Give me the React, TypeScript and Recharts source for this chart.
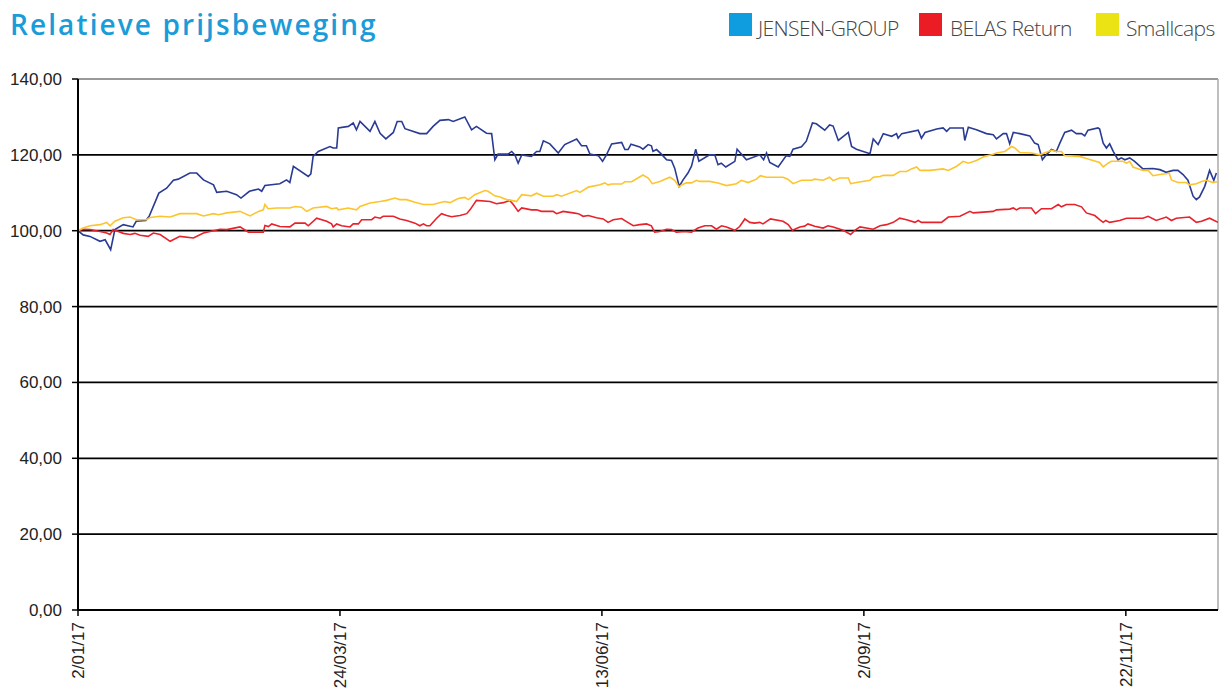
import { LineChart, Line, XAxis, YAxis, CartesianGrid, ReferenceLine } from 'recharts';

// x = calendar days since 2/01/17
const dayTicks = [0, 81, 162, 243, 324];
const dayLabels = ['2/01/17', '24/03/17', '13/06/17', '2/09/17', '22/11/17'];
const valueTicks = [0, 20, 40, 60, 80, 100, 120, 140];

const jensenDays = [
  0, 1.6, 3.7, 6.8, 8.4, 10.1, 11.4, 14, 17, 18, 21, 22, 25, 27.4, 29.5, 31, 34.6, 36.7, 38.8, 41.9,
  42.9, 46, 49, 50.4, 53, 55.8, 56.8, 57.8, 62.4, 64.5, 65.5, 66.6, 71.2, 72, 72.7, 74.3, 77.9, 78.9, 80, 80.5,
  83.6, 85.1, 86.1, 87.2, 90.3, 91.8, 93.4, 95.2, 97.5, 98.7, 100.1, 101.1, 105.7, 107.8, 109.8, 111.9, 114.5, 116, 119.6, 121.7,
  123.2, 126.3, 127.9, 128.9, 129.9, 133, 134.1, 135.1, 136.1, 137.2, 140.2, 141.8, 142.8, 143.9, 145.9, 148.5, 150.5, 154.2, 155.7, 157.2,
  158.3, 160.9, 162.2, 163.4, 165, 168.1, 169.1, 170.1, 171, 173.7, 174.7, 176.3, 177.3, 177.8, 178.9, 180.4, 182, 183.5, 184.5, 185.9,
  187.1, 188.6, 189.7, 191, 192, 195.3, 196.9, 197.9, 198.9, 200.3, 203.1, 203.8, 206.7, 210.8, 212, 212.9, 213.9, 216.5, 219, 220.1,
  221.1, 223.7, 225.2, 227.1, 228.3, 230.9, 232.4, 233.5, 235.1, 238.2, 239.2, 240.7, 244.9, 245.9, 247.4, 249, 251.6, 253.1, 253.6, 254.7,
  259.8, 260.8, 261.9, 265.5, 267.5, 268.6, 269.6, 273.7, 274.2, 275.3, 277.8, 280.9, 283, 284, 286.1, 287.1, 288.1, 289.2, 291.2, 294.3,
  295.8, 296.9, 298.2, 299.4, 301, 302.5, 303.6, 305.1, 307.2, 308.7, 310.3, 311.3, 312.3, 315.4, 315.9, 317, 318, 319, 320.1, 321.6,
  322.6, 323.7, 325.2, 326.7, 329.3, 332.4, 334.5, 336.5, 338.6, 340.1, 341.7, 343.2, 344.8, 345.8, 346.8, 348.4, 349.9, 351.2, 352,
];
const jensenValues = [
  100, 98.9, 98.5, 97.2, 97.6, 95.0, 100.3, 101.6, 101, 102.5, 102.7, 103.8, 109.9, 111.2, 113.3, 113.6, 115.2, 115.2, 113.4, 112.1,
  110.1, 110.4, 109.5, 108.6, 110.4, 111, 110.4, 111.9, 112.4, 113.4, 112.7, 117.0, 114.3, 115.0, 119.6, 120.9, 122.2, 121.8, 121.8, 127.1,
  127.5, 128.4, 126.6, 128.8, 126.2, 128.8, 125.7, 124.2, 125.9, 128.8, 128.8, 126.9, 125.6, 125.6, 127.5, 129.1, 129.3, 128.8, 130.0, 126.6,
  127.5, 125.7, 125.6, 118.7, 120.2, 120.2, 120.9, 120.0, 117.8, 120.0, 119.6, 120.9, 120.9, 123.7, 122.9, 120.5, 122.7, 124.2, 122.4, 122.4,
  120.2, 119.8, 118.3, 120.0, 122.9, 123.3, 121.4, 121.4, 122.8, 122.1, 121.5, 122.7, 122.4, 120.9, 121.4, 120.2, 118.7, 118.5, 116.5, 111.7,
  113.4, 115.2, 117.0, 121.5, 118.3, 120.0, 120.0, 117.4, 117.8, 116.8, 118.3, 121.5, 118.7, 120.0, 118.7, 120.5, 118.0, 116.8, 119.8, 119.6,
  121.5, 122.1, 123.6, 128.4, 128.2, 126.5, 127.9, 127.6, 123.8, 125.9, 122.2, 121.5, 120.3, 124.2, 122.7, 125.6, 124.9, 125.6, 124.4, 125.6,
  126.5, 124.4, 125.9, 126.8, 127.1, 126.2, 127.1, 127.1, 123.8, 127.3, 126.6, 125.6, 125.3, 124.2, 125.6, 125.6, 122.9, 125.9, 125.6, 125.0,
  123.1, 122.7, 118.7, 120.0, 121.4, 120.9, 123.1, 125.9, 126.5, 125.6, 125.6, 125.0, 126.5, 127.1, 126.8, 123.1, 121.8, 122.9, 120.9, 118.7,
  119.2, 118.7, 119.2, 118.3, 116.3, 116.4, 116.1, 115.4, 115.9, 115.9, 114.8, 113.3, 109.1, 108.2, 108.9, 111.7, 115.9, 113.3, 115.2,
];

const belasDays = [
  0, 1.6, 3.7, 6.8, 8.9, 9.9, 10.9, 14, 16.1, 17.6, 19.2, 21.7, 23.3, 25.4, 28.5, 31.5, 35.7, 38.8, 40.8, 43.9,
  46, 50.1, 52.7, 57.3, 57.8, 58.9, 59.9, 62.4, 65.5, 67.1, 70.2, 71.2, 73.8, 76.9, 78.4, 78.9, 80, 81.5, 84.1, 85.1,
  86.7, 87.7, 90.8, 91.8, 93.4, 94.4, 97.5, 99.5, 101.6, 104.2, 105.7, 106.8, 107.8, 108.8, 110.9, 112.4, 114, 115.5, 118.1, 120.2,
  121.2, 123.2, 127.4, 129.4, 131.5, 133.5, 134.6, 136.1, 137.2, 140.2, 141.8, 143.3, 146.9, 148, 150, 153.1, 154.7, 156.2, 157.8, 160.3,
  162.4, 163.9, 165.5, 168.1, 169.6, 171.7, 173.7, 175.8, 177.3, 178.3, 179.9, 182, 183.5, 185, 187.6, 189.7, 191.7, 193.8, 195.9, 197.4,
  199, 200.5, 203.1, 204.6, 206.2, 207.7, 209.2, 210.8, 211.8, 214.1, 218, 219.6, 220.9, 223.2, 224.7, 225.7, 227.8, 230.4, 231.9, 233.5,
  236.6, 238.9, 240.2, 241.8, 245.9, 248, 250, 252.1, 254.1, 256.2, 258.8, 259.8, 260.8, 267, 269.1, 272.7, 275.8, 276.8, 279.9, 283,
  284, 288.1, 289.2, 290.2, 291.2, 294.8, 296.1, 297.9, 301, 303.1, 304.1, 305.6, 308.2, 310.3, 311.8, 314.4, 315.9, 317, 317.8, 319,
  322.1, 324.2, 329.3, 330.9, 333.4, 336.5, 338.1, 339.6, 343.7, 345.8, 347.4, 349.9, 352.5,
];
const belasValues = [
  100, 100.4, 100.3, 99.8, 99.4, 99, 100.3, 99.3, 99, 99.3, 98.8, 98.5, 99.4, 99, 97.2, 98.5, 98.1, 99.4, 99.8, 100.4,
  100.3, 101, 99.6, 99.6, 101.4, 101.1, 101.8, 101.1, 101, 102, 102, 101.3, 103.3, 102.5, 101.8, 101, 101.8, 101.3, 101, 101.8,
  101.8, 102.9, 102.9, 103.6, 103.3, 103.8, 103.8, 103.1, 102.7, 102, 101.3, 101.8, 101.3, 101.3, 103.3, 104.5, 104, 103.7, 104, 104.5,
  105.5, 108, 107.7, 107.1, 107.4, 108, 106.9, 105.1, 106, 105.5, 105.5, 105.1, 105.1, 104.5, 105.1, 104.7, 104.5, 103.8, 104, 103.4,
  103.1, 102.2, 102.9, 103.2, 102.4, 101.3, 101.6, 101.8, 101.3, 99.6, 99.8, 100.4, 100.3, 99.6, 99.8, 99.6, 100.7, 101.3, 101.3, 100.4,
  101.3, 101, 100.1, 101.1, 103.1, 102.2, 102, 102.2, 101.8, 103.1, 102.5, 101.6, 100.1, 101, 101.2, 101.8, 101.2, 100.7, 101.3, 101,
  100.1, 99, 100.1, 101, 100.4, 101.3, 101.6, 102.2, 103.3, 102.9, 102.2, 102.7, 102.2, 102.2, 103.6, 103.8, 105.1, 104.7, 104.9, 105.1,
  105.5, 105.7, 106, 105.5, 106, 106, 104.5, 105.8, 105.8, 106.9, 106.3, 106.9, 106.9, 106.3, 104.7, 104, 102.9, 102.2, 102.7, 102.2,
  102.7, 103.3, 103.3, 103.8, 102.7, 103.6, 102.7, 103.3, 103.6, 102.2, 102.5, 103.3, 102.2,
];

const smallcapsDays = [
  0, 1.6, 3.7, 6.8, 8.9, 9.9, 11.4, 14, 16.1, 18.1, 21.2, 22.3, 25.4, 28.5, 31.5, 36.7, 38.8, 41.9, 43.4, 46,
  50.1, 53.2, 55.8, 57.3, 57.8, 58.8, 61.4, 65.5, 67.1, 69.1, 70.7, 72.7, 76.9, 78.4, 80, 80.5, 83.6, 86.1, 87.2, 90.3,
  93.4, 95.4, 98, 99.5, 101.6, 104.2, 106.8, 109.8, 112.4, 113.4, 115, 117.1, 118.1, 119.6, 120.7, 122.7, 125.8, 126.8, 128.9, 130.5,
  132.5, 134.1, 135.6, 137.2, 140.2, 141.8, 143.9, 146.9, 148, 149.5, 154.2, 155.2, 157.8, 161.4, 162.9, 163.9, 165, 168.1, 169.1, 171.2,
  174.7, 176.3, 177.6, 179.9, 183, 184.5, 185.9, 186.6, 188.1, 189.7, 191.2, 192.2, 195.3, 197.9, 200.5, 203.6, 205.1, 207.2, 209.8, 211,
  212.9, 218, 219.5, 221.1, 223.7, 226.8, 227.8, 230.4, 232.4, 233.5, 235.5, 238.2, 238.9, 240.7, 244.9, 245.9, 248, 249, 252.1, 254.1,
  256.2, 257.7, 259.3, 260.3, 263.4, 267.5, 269.1, 271.7, 273.7, 275.3, 277.8, 280.4, 282.5, 284, 286.6, 288.7, 289.7, 291.2, 294.8, 297.4,
  301, 302.5, 304.1, 305.1, 309.7, 312.3, 315.9, 317, 318.5, 319.5, 323.1, 324.2, 325.2, 326.2, 329.3, 330.9, 332.4, 334.5, 336.5, 337.4,
  338.1, 340.1, 342.7, 343.7, 345.8, 347.4, 348.9, 351, 352.5,
];
const smallcapsValues = [
  100, 100.7, 101.3, 101.6, 102.2, 101.3, 102.5, 103.4, 103.6, 102.9, 102.9, 103.5, 103.8, 103.6, 104.5, 104.5, 103.9, 104.5, 104.2, 104.7,
  105.1, 103.9, 105.1, 105.5, 106.9, 105.8, 106, 106, 106.4, 106.2, 105.1, 106, 106.4, 105.8, 106, 105.5, 106, 105.5, 106.4, 107.3,
  107.7, 108, 108.6, 108.2, 108.2, 107.5, 106.9, 106.9, 107.5, 107.7, 107.4, 108.3, 108.6, 108.8, 108.2, 109.5, 110.6, 110.4, 109.2, 108.9,
  108.2, 108, 107.7, 109.5, 109.2, 109.9, 109.1, 109.1, 109.5, 109.1, 110.6, 110.1, 111.5, 112.1, 112.6, 112.1, 112.3, 112.3, 112.9, 112.9,
  114.7, 113.9, 112.4, 113, 114.1, 113.3, 111.5, 112.1, 112.6, 112.6, 113.3, 113, 113, 112.6, 111.9, 112.4, 113.3, 112.7, 113.6, 114.5,
  114.1, 114.1, 113.6, 112.4, 113.3, 113.3, 113.6, 113.3, 114.1, 113.2, 113.9, 113.9, 112.4, 112.7, 113.3, 114.1, 114.3, 114.6, 114.6, 115.6,
  115.6, 116.3, 116.8, 115.9, 115.9, 116.3, 115.9, 117, 118.3, 117.8, 118.5, 119.6, 120, 120.5, 120.9, 122.2, 121.8, 120.6, 120.5, 120,
  121.2, 120.9, 120.9, 119.8, 119.6, 118.9, 118, 116.8, 117.8, 118.3, 118.3, 117.8, 118.3, 116.8, 115.9, 115.9, 114.5, 114.8, 115, 115.2,
  113.4, 112.7, 112.7, 112.1, 112.4, 113, 113.3, 112.7, 113,
];

const toPoints = (days: number[], values: number[]) => days.map((day, i) => ({ day, value: values[i] }));
const jensen = toPoints(jensenDays, jensenValues);
const belas = toPoints(belasDays, belasValues);
const smallcaps = toPoints(smallcapsDays, smallcapsValues);

const legendItems = [
  { name: 'JENSEN-GROUP', color: '#0f9ddf', boxLeft: 729, textLeft: 758 },
  { name: 'BELAS Return', color: '#ec1c24', boxLeft: 919, textLeft: 950 },
  { name: 'Smallcaps', color: '#ebe314', boxLeft: 1096, textLeft: 1126 },
];

const axisFont = '"Liberation Sans", Arial, sans-serif';

function DateTick(props: any) {
  const { x, y, payload } = props;
  const label = dayLabels[dayTicks.indexOf(payload.value)] ?? '';
  return (
    <g transform={`translate(${x},${y})`}>
      <text transform="rotate(-90)" textAnchor="end" dy="0.35em" fontSize={17} fill="#222" fontFamily={axisFont}>
        {label}
      </text>
    </g>
  );
}

export default function App() {
  return (
    <div style={{ position: 'absolute', left: 0, top: 0, width: 1232, height: 691, background: '#fff' }}>
      <div
        style={{
          position: 'absolute',
          left: 10,
          top: 4,
          fontFamily: '"Open Sans", sans-serif',
          fontWeight: 600,
          fontSize: 28,
          letterSpacing: 2.1,
          color: '#1a9cd9',
          lineHeight: '40px',
          whiteSpace: 'nowrap',
        }}
      >
        Relatieve prijsbeweging
      </div>
      {legendItems.map((item) => (
        <div key={item.name}>
          <div style={{ position: 'absolute', left: item.boxLeft, top: 13, width: 23, height: 23, background: item.color }} />
          <div
            style={{
              position: 'absolute',
              left: item.textLeft,
              top: 13,
              fontFamily: '"Open Sans", sans-serif',
              fontWeight: 300,
              fontSize: 21,
              letterSpacing: -0.6,
              lineHeight: '30px',
              color: '#444',
              whiteSpace: 'nowrap',
            }}
          >
            {item.name}
          </div>
        </div>
      ))}
      <div style={{ position: 'absolute', left: 0, top: 0 }}>
        <LineChart width={1232} height={691} margin={{ top: 79, right: 14, bottom: 0, left: 0 }}>
          <CartesianGrid vertical={false} stroke="#000" strokeWidth={1.8} />
          <XAxis
            type="number"
            dataKey="day"
            domain={[0, 352.5]}
            ticks={dayTicks}
            height={81}
            tickSize={6}
            tickMargin={6}
            tick={<DateTick />}
            axisLine={{ stroke: '#000', strokeWidth: 2 }}
            tickLine={{ stroke: '#000', strokeWidth: 1.5 }}
            allowDataOverflow
          />
          <YAxis
            type="number"
            domain={[0, 140]}
            ticks={valueTicks}
            width={78}
            tickSize={6}
            tickMargin={10}
            tickFormatter={(v: number) => v.toFixed(2).replace('.', ',')}
            tick={{ fontSize: 17, fill: '#222', fontFamily: axisFont }}
            axisLine={{ stroke: '#000', strokeWidth: 2 }}
            tickLine={{ stroke: '#000', strokeWidth: 1.5 }}
          />
          <ReferenceLine y={140} stroke="#999" strokeWidth={2.2} />
          <ReferenceLine x={352.5} stroke="#aaa" strokeWidth={1.5} />
          <Line data={jensen} dataKey="value" type="linear" stroke="#2a3b94" strokeWidth={1.6} dot={false} isAnimationActive={false} />
          <Line data={belas} dataKey="value" type="linear" stroke="#e8222b" strokeWidth={1.6} dot={false} isAnimationActive={false} />
          <Line data={smallcaps} dataKey="value" type="linear" stroke="#fcc52f" strokeWidth={1.6} dot={false} isAnimationActive={false} />
        </LineChart>
      </div>
    </div>
  );
}
